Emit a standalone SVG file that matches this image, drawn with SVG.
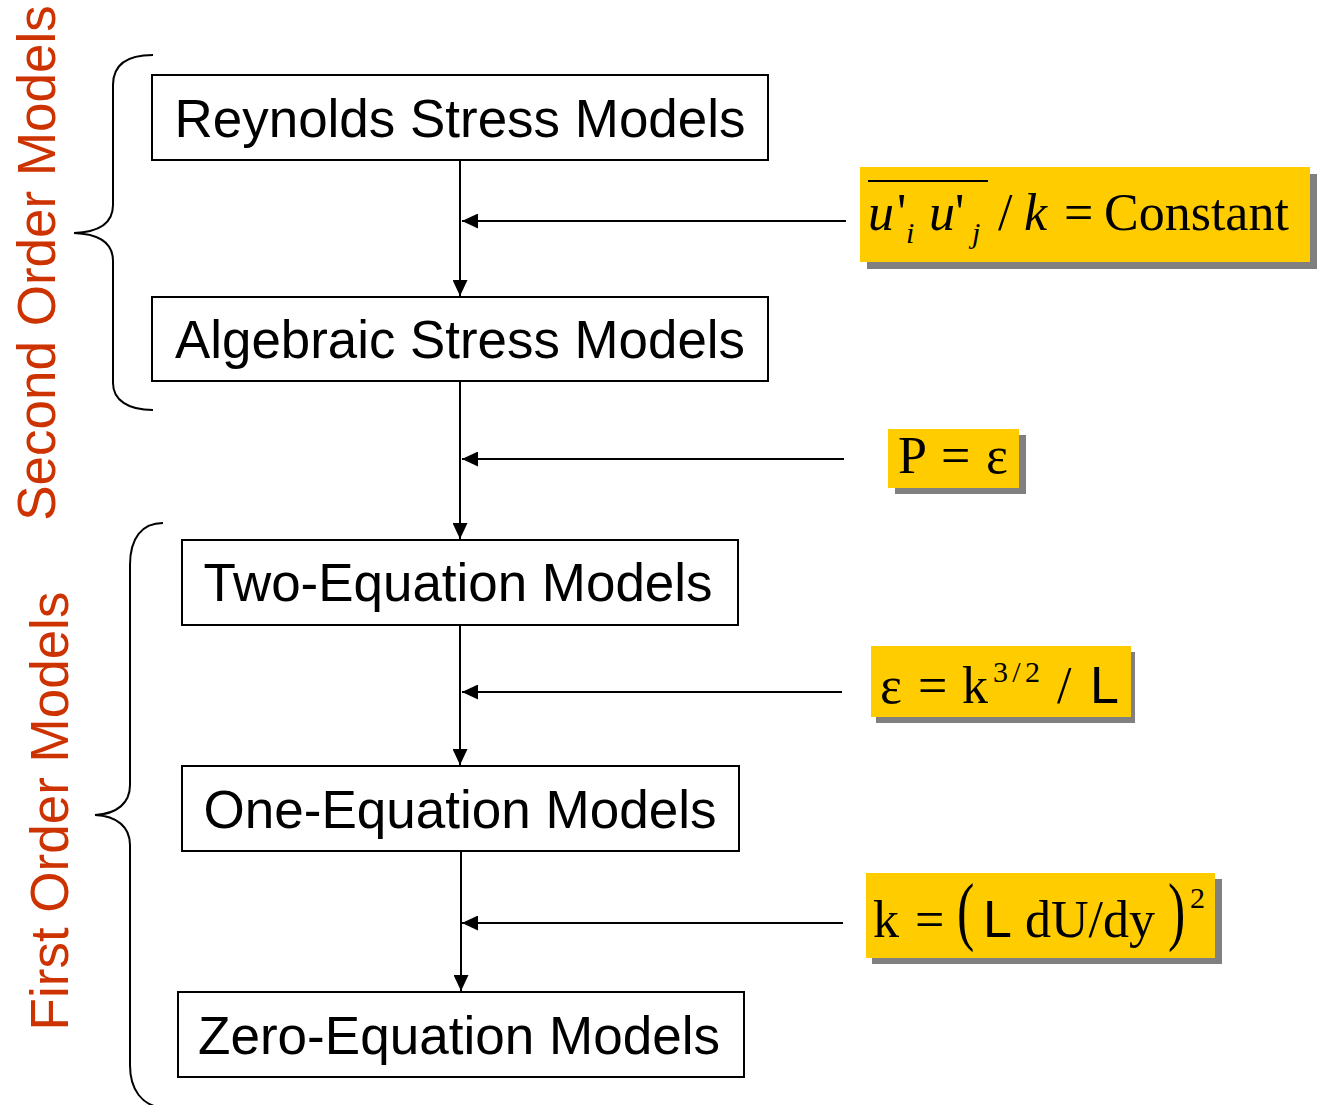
<svg xmlns="http://www.w3.org/2000/svg" width="1317" height="1105" viewBox="0 0 1317 1105">
<style>
.box{fill:#fff;stroke:#000;stroke-width:2}
.lbl{font-family:"Liberation Sans",Arial,sans-serif;font-size:53px;fill:#000;text-anchor:middle}
.side{font-family:"Liberation Sans",Arial,sans-serif;font-size:53px;fill:#CC3300;text-anchor:middle}
.conn{stroke:#000;stroke-width:2;fill:none}
.brace{stroke:#000;stroke-width:2;fill:none}
.yel{fill:#FFCC00}
.shd{fill:#808080}
.m{font-family:"Liberation Serif","Times New Roman",serif;font-size:52px;fill:#000}
.mi{font-style:italic}
.sup{font-size:30px}
.sans{font-family:"Liberation Sans",Arial,sans-serif}
</style>
<defs>
<marker id="ah" viewBox="0 0 16 15" refX="16" refY="7.5" markerWidth="16" markerHeight="15" markerUnits="userSpaceOnUse" orient="auto">
<path d="M0,0 L16,7.5 L0,15 z" fill="#000"/>
</marker>
</defs>

<g id="side-labels">
<text class="side" transform="translate(55,263) rotate(-90)">Second Order Models</text>
<text class="side" transform="translate(68,811) rotate(-90)">First Order Models</text>
</g>

<g id="braces">
<path class="brace" d="M153,55 C128,55 113,64 113,85 L113,205 C113,222 100,232 74,233 C100,234 113,244 113,261 L113,383 C113,400 128,410 153,410"/>
<path class="brace" d="M163,523 C142,523 130,538 130,565 L130,785 C130,803 117,814 95,815 C117,816 130,827 130,845 L130,1065 C130,1090 142,1105 162,1108"/>
</g>

<g id="connectors">
<line class="conn" x1="460" y1="160" x2="460" y2="296" marker-end="url(#ah)"/>
<line class="conn" x1="460" y1="381" x2="460" y2="539" marker-end="url(#ah)"/>
<line class="conn" x1="460" y1="625" x2="460" y2="765" marker-end="url(#ah)"/>
<line class="conn" x1="461" y1="851" x2="461" y2="991" marker-end="url(#ah)"/>
<line class="conn" x1="846" y1="221" x2="462" y2="221" marker-end="url(#ah)"/>
<line class="conn" x1="844" y1="459" x2="462" y2="459" marker-end="url(#ah)"/>
<line class="conn" x1="842" y1="692" x2="462" y2="692" marker-end="url(#ah)"/>
<line class="conn" x1="843" y1="923" x2="462" y2="923" marker-end="url(#ah)"/>
</g>

<g id="reynolds">
<rect class="box" x="152" y="75" width="616" height="85"/>
<text class="lbl" x="460" y="137" textLength="571" lengthAdjust="spacingAndGlyphs">Reynolds Stress Models</text>
</g>
<g id="algebraic">
<rect class="box" x="152" y="297" width="616" height="84"/>
<text class="lbl" x="460" y="358" textLength="570" lengthAdjust="spacingAndGlyphs">Algebraic Stress Models</text>
</g>
<g id="two-equation">
<rect class="box" x="182" y="540" width="556" height="85"/>
<text class="lbl" x="458" y="601" textLength="509" lengthAdjust="spacingAndGlyphs">Two-Equation Models</text>
</g>
<g id="one-equation">
<rect class="box" x="182" y="766" width="557" height="85"/>
<text class="lbl" x="460" y="828" textLength="513" lengthAdjust="spacingAndGlyphs">One-Equation Models</text>
</g>
<g id="zero-equation">
<rect class="box" x="178" y="992" width="566" height="85"/>
<text class="lbl" x="459" y="1054" textLength="522" lengthAdjust="spacingAndGlyphs">Zero-Equation Models</text>
</g>

<g id="eq-constant">
<rect class="shd" x="867" y="174" width="450" height="95"/>
<rect class="yel" x="860" y="167" width="450" height="95"/>
<line x1="868" y1="181" x2="988" y2="181" stroke="#000" stroke-width="2"/>
<text class="m mi" x="868" y="230">u</text>
<text class="m" x="897" y="230">'</text>
<text class="m mi sup" x="906" y="243">i</text>
<text class="m mi" x="929" y="230">u</text>
<text class="m" x="955" y="230">'</text>
<text class="m mi sup" x="972" y="243">j</text>
<text class="m" x="998" y="230">/</text>
<text class="m mi" x="1024" y="230">k</text>
<text class="m" x="1064" y="230">=</text>
<text class="m" x="1104" y="230">Constant</text>
</g>

<g id="eq-p-eps">
<rect class="shd" x="895" y="435" width="131" height="59"/>
<rect class="yel" x="888" y="429" width="131" height="59"/>
<text class="m" x="898" y="473">P</text>
<text class="m" x="941" y="473">=</text>
<text class="m" x="986" y="473">ε</text>
</g>

<g id="eq-eps-k">
<rect class="shd" x="876" y="652" width="259" height="71"/>
<rect class="yel" x="871" y="646" width="260" height="71"/>
<text class="m" x="880" y="703">ε</text>
<text class="m" x="918" y="703">=</text>
<text class="m" x="962" y="703">k</text>
<text class="m sup" x="993" y="682" textLength="47" lengthAdjust="spacing">3/2</text>
<text class="m" x="1057" y="703">/</text>
<text class="m sans" x="1090" y="703">L</text>
</g>

<g id="eq-k-L">
<rect class="shd" x="872" y="879" width="350" height="85"/>
<rect class="yel" x="866" y="873" width="349" height="85"/>
<text class="m" x="873" y="937">k</text>
<text class="m" x="915" y="937">=</text>
<text class="m" transform="translate(957,936) scale(1,1.45)">(</text>
<text class="m sans" x="983" y="937">L</text>
<text class="m" x="1025" y="937">dU/dy</text>
<text class="m" transform="translate(1168,936) scale(1,1.45)">)</text>
<text class="m sup" x="1190" y="908">2</text>
</g>
</svg>
